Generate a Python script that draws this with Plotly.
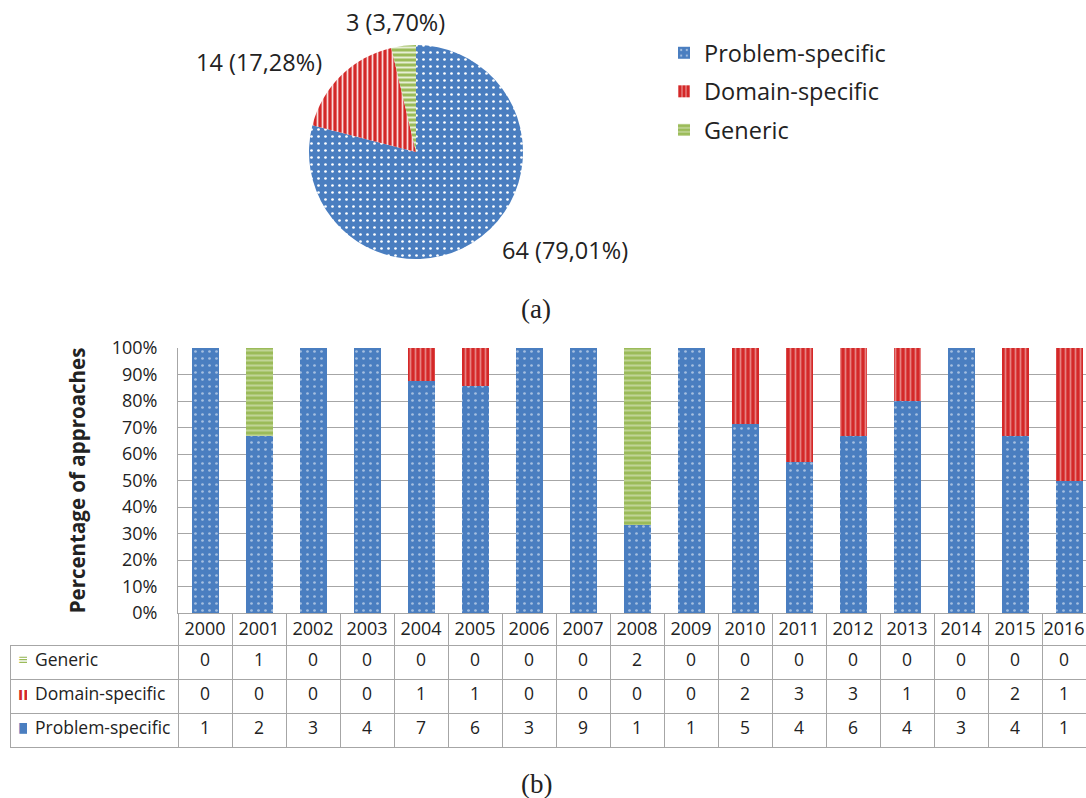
import plotly.graph_objects as go

W, H = 1086, 798

# ---- data -------------------------------------------------------------
categories = ["Problem-specific", "Domain-specific", "Generic"]
totals = [64, 14, 3]

years = [str(y) for y in range(2000, 2017)]
generic = [0, 1, 0, 0, 0, 0, 0, 0, 2, 0, 0, 0, 0, 0, 0, 0, 0]
domain = [0, 0, 0, 0, 1, 1, 0, 0, 0, 0, 2, 3, 3, 1, 0, 2, 1]
problem = [1, 2, 3, 4, 7, 6, 3, 9, 1, 1, 5, 4, 6, 4, 3, 4, 1]

# ---- styling ----------------------------------------------------------
BLUE = "#4A7EC0"
RED = "#D42828"
GREEN = "#9BBB59"
GRID = "#A6A6A6"
FONT = "Open Sans"
TXT = "#222222"
CLEAR = "rgba(0,0,0,0)"

patterns = {
    "Problem-specific": dict(shape=".", fgcolor="white", size=7, solidity=0.12),
    "Domain-specific": dict(shape="|", fgcolor="#F8DCDC", size=5, solidity=0.35),
    "Generic": dict(shape="-", fgcolor="#E6EED4", size=5, solidity=0.4),
}
colors = {"Problem-specific": BLUE, "Domain-specific": RED, "Generic": GREEN}


def px_x(p):
    return p / W


def px_y(p):
    return 1 - p / H


fig = go.Figure()

# ---- (a) pie ----------------------------------------------------------
total = sum(totals)
pie_text = [f"{v} ({v / total * 100:.2f}%)".replace(".", ",") for v in totals]
fig.add_trace(go.Pie(
    labels=categories,
    values=totals,
    textinfo="none",
    sort=False,
    direction="clockwise",
    rotation=0,
    showlegend=False,
    marker=dict(
        colors=[colors[c] for c in categories],
        pattern=dict(
            shape=[patterns[c]["shape"] for c in categories],
            fgcolor=[patterns[c]["fgcolor"] for c in categories],
            bgcolor=[colors[c] for c in categories],
            size=[patterns[c]["size"] for c in categories],
            solidity=[patterns[c]["solidity"] for c in categories],
        ),
        line=dict(width=0),
    ),
    domain=dict(x=[px_x(309), px_x(523)], y=[px_y(259), px_y(45)]),
    hoverinfo="skip",
))

# slice labels placed around the pie
pie_label_pos = {"Problem-specific": (565, 250), "Domain-specific": (259, 62), "Generic": (395, 22)}
annotations = []
for c, t in zip(categories, pie_text):
    x, y = pie_label_pos[c]
    annotations.append(dict(text=t, x=px_x(x), y=px_y(y), xref="paper", yref="paper",
                            xanchor="center", yanchor="middle", showarrow=False,
                            font=dict(family=FONT, size=23.5, color=TXT)))

# ---- (b) stacked percentage bars -------------------------------------
year_tot = [g + d + p for g, d, p in zip(generic, domain, problem)]
series = {"Problem-specific": problem, "Domain-specific": domain, "Generic": generic}
for name in categories:
    vals = series[name]
    fig.add_trace(go.Bar(
        x=years,
        y=[v / t for v, t in zip(vals, year_tot)],
        name=name,
        legendgroup=name,
        width=0.5,
        marker=dict(color=colors[name], pattern=patterns[name], line=dict(width=0)),
        hoverinfo="skip",
    ))

# ---- data table under the bars ---------------------------------------
row_names = ["Generic", "Domain-specific", "Problem-specific"]
row_vals = {"Generic": generic, "Domain-specific": domain, "Problem-specific": problem}
cell_cols = [[""] * len(row_names)]
for j in range(len(years)):
    cell_cols.append([str(row_vals[r][j]) for r in row_names])

TABLE_TOP = 613
HEAD_H, ROW_H = 32, 34
col_w = [168] + [54] * (len(years) - 1) + [44]
fig.add_trace(go.Table(
    domain=dict(x=[px_x(10), 1], y=[0, px_y(TABLE_TOP)]),
    columnwidth=col_w,
    header=dict(
        values=[""] + years,
        height=HEAD_H,
        align="center",
        fill=dict(color=[CLEAR] + ["white"] * len(years)),
        line=dict(color=[CLEAR] + [GRID] * len(years), width=1),
        font=dict(family=FONT, size=18, color=TXT),
    ),
    cells=dict(
        values=cell_cols,
        height=ROW_H,
        align="center",
        fill=dict(color="white"),
        line=dict(color=GRID, width=1),
        font=dict(family=FONT, size=17.5, color=TXT),
    ),
))

# row titles with their legend keys, laid over the first table column
icon_glyph = {"Generic": "≡", "Domain-specific": "<b>II</b>", "Problem-specific": "■"}
fig.add_trace(go.Table(
    domain=dict(x=[px_x(10), px_x(178)], y=[0, px_y(TABLE_TOP)]),
    columnwidth=[17, 151],
    header=dict(values=["", ""], height=HEAD_H, fill=dict(color=CLEAR),
                line=dict(color=CLEAR, width=0)),
    cells=dict(
        values=[[icon_glyph[r] for r in row_names], row_names],
        height=ROW_H,
        align="left",
        fill=dict(color=CLEAR),
        line=dict(color=CLEAR, width=0),
        font=dict(
            family=["DejaVu Sans", FONT],
            size=[14, 17.5],
            color=[[colors[r] for r in row_names], TXT],
        ),
    ),
))

annotations += [
    dict(text="(a)", x=px_x(536), y=px_y(309), xref="paper", yref="paper",
         xanchor="center", yanchor="middle", showarrow=False,
         font=dict(family="Liberation Serif", size=27, color=TXT)),
    dict(text="(b)", x=px_x(536), y=px_y(784), xref="paper", yref="paper",
         xanchor="center", yanchor="middle", showarrow=False,
         font=dict(family="Liberation Serif", size=27, color=TXT)),
]

fig.update_layout(
    width=W,
    height=H,
    margin=dict(l=0, r=0, t=0, b=0),
    paper_bgcolor="white",
    plot_bgcolor="white",
    barmode="stack",
    font=dict(family=FONT, color=TXT),
    legend=dict(
        x=px_x(664), y=px_y(31), xanchor="left", yanchor="top",
        traceorder="grouped", tracegroupgap=5,
        font=dict(family=FONT, size=23.5, color=TXT),
        bgcolor=CLEAR,
    ),
    xaxis=dict(
        domain=[px_x(178), 1],
        range=[-0.5, len(years) - 0.5 - 10 / 54],
        showticklabels=False,
        ticks="",
        showgrid=False,
        showline=True,
        linecolor=GRID,
        zeroline=False,
        fixedrange=True,
    ),
    yaxis=dict(
        domain=[px_y(613), px_y(348)],
        range=[0, 1],
        dtick=0.1,
        tickformat=".0%",
        showgrid=True,
        gridcolor=GRID,
        gridwidth=1,
        showline=True,
        linecolor=GRID,
        zeroline=False,
        ticks="",
        ticklabelstandoff=16,
        tickfont=dict(family=FONT, size=18, color=TXT),
        title=dict(
            text="<b>Percentage of approaches</b>",
            font=dict(family=FONT, size=20.5, color=TXT),
            standoff=20,
        ),
        automargin=False,
        fixedrange=True,
    ),
    annotations=annotations,
)

fig.write_html("out.html")
